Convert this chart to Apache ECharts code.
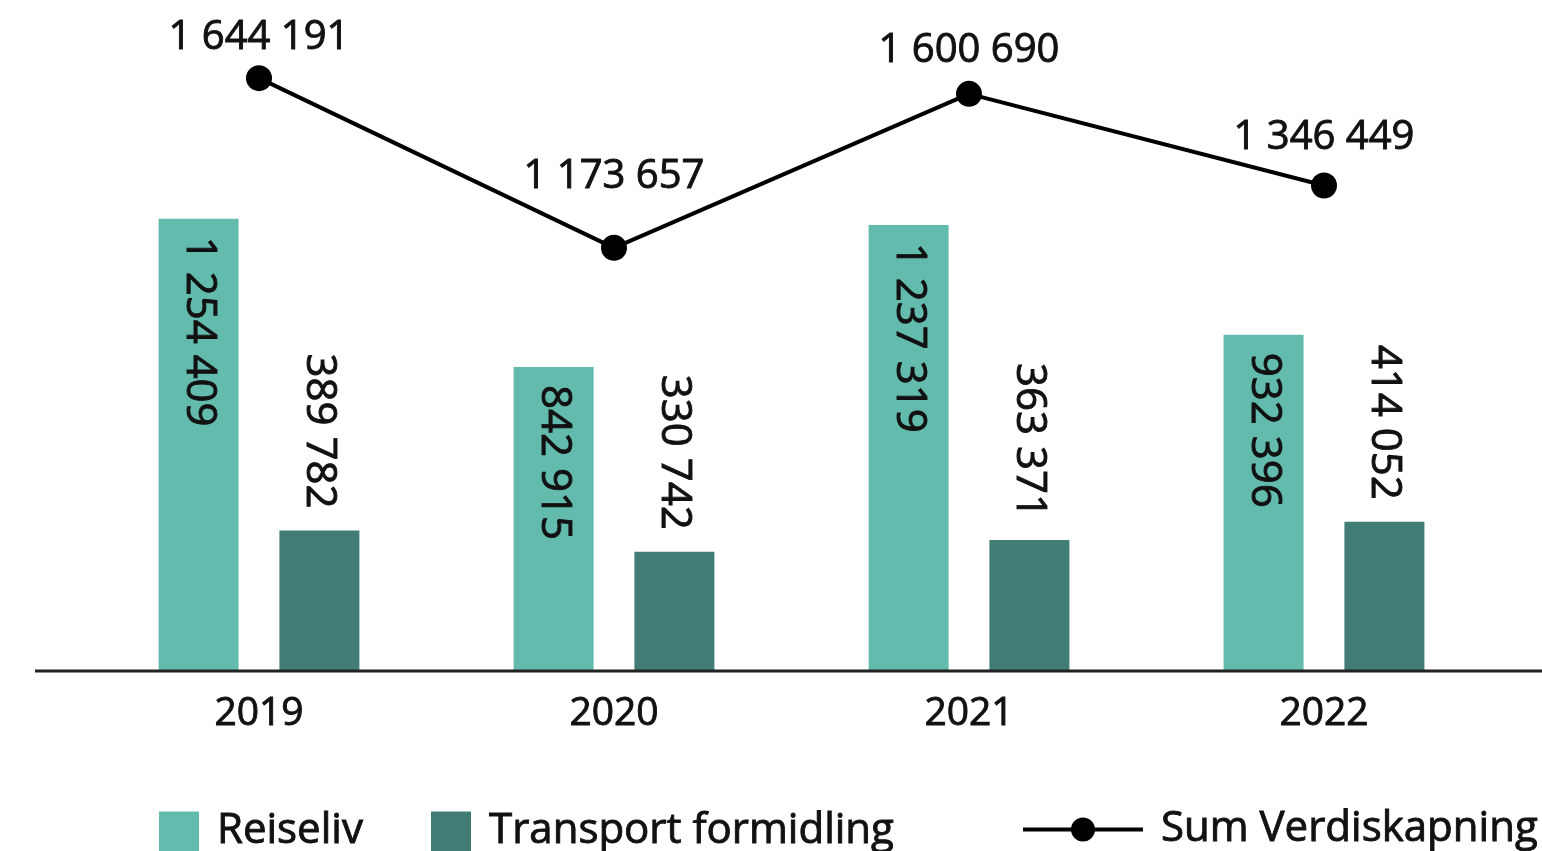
<!DOCTYPE html>
<html>
<head>
<meta charset="utf-8">
<script src="https://cdn.jsdelivr.net/npm/echarts@6/dist/echarts.min.js"></script>
<style>
  html, body { margin: 0; padding: 0; background: #fff; }
  #chart { width: 1542px; height: 851px; }
</style>
</head>
<body>
<div id="chart"></div>
<script>
// Verdiskapning per år (NOK 1000)
const years = ['2019', '2020', '2021', '2022'];
const reiseliv = [1254409, 842915, 1237319, 932396];
const transportFormidling = [389782, 330742, 363371, 414052];
const sumVerdiskapning = [1644191, 1173657, 1600690, 1346449];

const FONT = '"Open Sans", "Noto Sans", sans-serif';
const TEAL = '#63bbad';
const DARK_TEAL = '#417d75';
const INK = '#111111';

// a hairline outline in the text colour gives a medium-weight look
const textBase = { fontFamily: FONT, color: INK, textBorderColor: INK, textBorderWidth: 0.9 };

// Norwegian thousands grouping with plain spaces: 1 644 191
const fmt = v => String(v).replace(/\B(?=(\d{3})+(?!\d))/g, ' ');

// how far each sum label sits above its point
const sumLabelLift = [8, 38, 10, 15];

const gridTop = 22, gridBottom = 180;

const chart = echarts.init(document.getElementById('chart'), null, { renderer: 'canvas' });

const legendText = Object.assign({}, textBase, { fontSize: 42, padding: [0, 0, 0, 13] });

chart.setOption({
  animation: false,
  backgroundColor: '#ffffff',
  grid: { left: 81.5, right: 40.5, top: gridTop, bottom: gridBottom, containLabel: false },
  legend: [
    {
      data: [{ name: 'Reiseliv', icon: 'rect' }], left: 159, top: 810, padding: 0,
      itemWidth: 40, itemHeight: 40, textStyle: legendText
    },
    {
      data: [{ name: 'Transport formidling', icon: 'rect' }], left: 431, top: 810, padding: 0,
      itemWidth: 40, itemHeight: 40, textStyle: legendText
    },
    {
      data: ['Sum Verdiskapning'], left: 1021, top: 808, padding: 0,
      itemWidth: 120, itemHeight: 30,
      lineStyle: { width: 4, color: '#000' },
      textStyle: legendText
    }
  ],
  xAxis: {
    type: 'category',
    data: years,
    axisLine: { show: false },
    axisTick: { show: false },
    axisLabel: Object.assign({}, textBase, { fontSize: 39, margin: 23 })
  },
  yAxis: {
    type: 'value',
    min: 0, max: 1800000,
    show: false,
    splitLine: { show: false }
  },
  series: [
    {
      name: 'Reiseliv',
      type: 'bar',
      data: reiseliv,
      barWidth: 80,
      barGap: '51%',
      itemStyle: { color: TEAL },
      label: Object.assign({}, textBase, {
        show: true,
        position: 'insideTop',
        distance: 18,
        rotate: -90,
        align: 'left',
        verticalAlign: 'middle',
        fontSize: 42,
        formatter: p => fmt(p.value)
      })
    },
    {
      name: 'Transport formidling',
      type: 'bar',
      data: transportFormidling,
      barWidth: 80,
      itemStyle: { color: DARK_TEAL },
      label: Object.assign({}, textBase, {
        show: true,
        position: 'top',
        distance: 22,
        rotate: -90,
        align: 'right',
        verticalAlign: 'middle',
        fontSize: 42,
        formatter: p => fmt(p.value)
      })
    },
    {
      name: 'Sum Verdiskapning',
      type: 'line',
      data: sumVerdiskapning.map((v, i) => ({
        value: v,
        label: { distance: sumLabelLift[i] }
      })),
      symbol: 'circle',
      symbolSize: 26,
      lineStyle: { color: '#000', width: 4 },
      itemStyle: { color: '#000' },
      z: 5,
      label: Object.assign({}, textBase, {
        show: true,
        position: 'top',
        fontSize: 40,
        formatter: p => fmt(p.value)
      })
    }
  ],
  graphic: [
    {
      // baseline running the full width under the bars
      type: 'line',
      z: 10,
      shape: { x1: 35, y1: 851 - gridBottom, x2: 1542, y2: 851 - gridBottom },
      style: { stroke: '#222', lineWidth: 3 }
    }
  ]
});
</script>
</body>
</html>
